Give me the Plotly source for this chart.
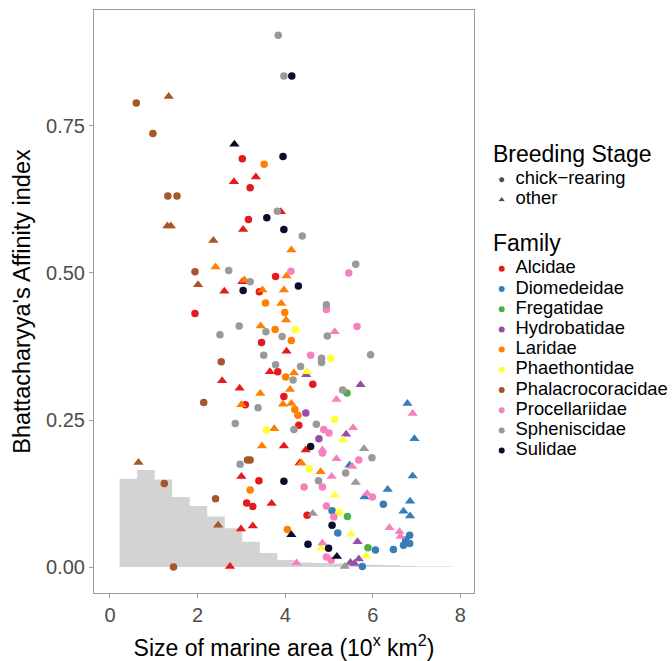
import plotly.graph_objects as go

# ---------------- data (x = log10 marine area, y = Bhattacharyya's affinity) ----------------
FAMILIES = ["Alcidae", "Diomedeidae", "Fregatidae", "Hydrobatidae", "Laridae",
            "Phaethontidae", "Phalacrocoracidae", "Procellariidae", "Spheniscidae", "Sulidae"]
COLORS = ["#E41A1C", "#377EB8", "#4DAF4A", "#984EA3", "#FF7F00",
          "#FFFF33", "#A65628", "#F781BF", "#999999", "#0b0b2e"]
STAGES = ["chick\u2212rearing", "other"]

# c = chick-rearing (circle), o = other (triangle)
ALCIDAE_X = [3.02, 3.20, 3.16, 3.78, 3.41, 1.94, 3.46, 3.83, 4.63, 3.97, 3.09, 4.31, 3.40, 3.12, 3.26, 4.50,
             2.83, 3.33, 3.04, 3.90, 3.02, 2.61, 4.03, 3.65, 2.56, 2.96, 3.97, 3.00, 3.69, 2.99, 3.26, 2.74, 4.47, 4.33]
ALCIDAE_Y = [0.694, 0.645, 0.591, 0.494, 0.468, 0.431, 0.382, 0.332, 0.311, 0.290, 0.276, 0.241, 0.147, 0.109, 0.103, 0.088,
             0.655, 0.663, 0.574, 0.604, 0.485, 0.469, 0.367, 0.332, 0.317, 0.304, 0.206, 0.154, 0.108, 0.065, 0.070, 0.001, 0.199, 0.177]
ALCIDAE_S = ["c"] * 16 + ["o"] * 18

DIOMEDEIDAE_X = [6.24, 5.07, 5.20, 6.84, 6.75, 6.84, 6.70, 6.06, 6.47, 5.76,
                 6.79, 6.95, 6.91, 6.34, 6.85, 6.70, 6.85, 5.81, 5.47]
DIOMEDEIDAE_Y = [0.107, 0.096, 0.058, 0.054, 0.046, 0.040, 0.037, 0.029, 0.030, 0.001,
                 0.278, 0.218, 0.155, 0.132, 0.112, 0.095, 0.087, 0.119, 0.173]
DIOMEDEIDAE_S = ["c"] * 10 + ["o"] * 9

FREGATIDAE_X = [5.41, 5.42, 5.89]
FREGATIDAE_Y = [0.296, 0.086, 0.033]
FREGATIDAE_S = ["c", "c", "c"]

HYDROBATIDAE_X = [4.47, 4.77, 5.72, 5.39, 5.65, 5.49, 5.58, 5.68, 4.48]
HYDROBATIDAE_Y = [0.262, 0.218, 0.310, 0.226, 0.043, 0.008, 0.006, 0.014, 0.327]
HYDROBATIDAE_S = ["c", "c", "o", "o", "o", "o", "o", "o", "o"]

LARIDAE_X = [3.52, 3.55, 3.99, 3.77, 4.14, 4.01, 4.22, 4.29, 3.20, 4.05,
             4.14, 2.41, 4.03, 3.07, 3.48, 3.97, 3.91, 4.02, 3.44, 4.20, 4.11, 3.43, 3.00, 3.95, 4.14, 3.75, 3.47, 4.37, 4.81]
LARIDAE_Y = [0.685, 0.449, 0.433, 0.404, 0.385, 0.323, 0.268, 0.258, 0.131, 0.064,
             0.539, 0.510, 0.495, 0.488, 0.471, 0.471, 0.448, 0.420, 0.410, 0.330, 0.302, 0.295, 0.276, 0.277, 0.278, 0.235, 0.206, 0.177, 0.162]
LARIDAE_S = ["c"] * 10 + ["o"] * 19

PHAETHONTIDAE_X = [4.23, 5.04, 5.13, 3.57, 4.55, 5.23, 4.50, 5.32, 5.13, 5.51, 4.82, 5.85]
PHAETHONTIDAE_Y = [0.404, 0.355, 0.251, 0.233, 0.167, 0.093, 0.332, 0.216, 0.122, 0.056, 0.032, 0.019]
PHAETHONTIDAE_S = ["c"] * 6 + ["o"] * 6

PHALACROCORACIDAE_X = [0.60, 0.98, 1.32, 1.53, 1.94, 2.14, 1.24, 2.41, 1.45, 3.14, 3.20, 2.54,
                       1.34, 1.31, 1.39, 2.36, 2.01, 0.65, 2.47]
PHALACROCORACIDAE_Y = [0.789, 0.737, 0.631, 0.631, 0.502, 0.280, 0.142, 0.116, 0.000, 0.182, 0.182, 0.349,
                       0.800, 0.580, 0.580, 0.555, 0.480, 0.178, 0.071]
PHALACROCORACIDAE_S = ["c"] * 12 + ["o"] * 7

PROCELLARIIDAE_X = [4.13, 5.45, 4.94, 5.64, 4.58, 4.88, 5.00, 4.85, 5.68, 4.43, 4.85, 5.99, 4.94, 5.11, 4.94, 5.05,
                    5.13, 5.17, 6.91, 5.55, 4.85, 5.17, 5.53, 5.06, 5.87, 6.38, 6.61, 6.63, 4.85, 4.26]
PROCELLARIIDAE_Y = [0.503, 0.500, 0.438, 0.409, 0.360, 0.234, 0.228, 0.194, 0.182, 0.136, 0.136, 0.119, 0.104, 0.085, 0.017, 0.012,
                    0.400, 0.285, 0.261, 0.237, 0.199, 0.184, 0.171, 0.154, 0.125, 0.067, 0.060, 0.052, 0.041, 0.007]
PROCELLARIIDAE_S = ["c"] * 16 + ["o"] * 14

SPHENISCIDAE_X = [3.84, 3.97, 3.82, 4.39, 2.71, 3.20, 5.61, 4.94, 2.95, 2.51, 3.56, 3.93, 4.96, 3.51, 4.83, 4.83,
                  5.95, 3.78, 4.35, 4.18, 5.31, 3.38, 2.86, 4.20, 4.71, 2.97, 5.98, 5.38, 4.76,
                  5.80, 5.61, 4.63, 5.36]
SPHENISCIDAE_Y = [0.904, 0.835, 0.605, 0.563, 0.504, 0.485, 0.515, 0.446, 0.410, 0.395, 0.400, 0.392, 0.393, 0.360, 0.355, 0.348,
                  0.361, 0.344, 0.341, 0.318, 0.301, 0.271, 0.244, 0.234, 0.243, 0.175, 0.186, 0.160, 0.147,
                  0.201, 0.144, 0.091, 0.001]
SPHENISCIDAE_S = ["c"] * 29 + ["o"] * 4

SULIDAE_X = [4.15, 3.95, 3.58, 3.97, 4.30, 3.04, 4.58, 3.97, 5.07, 4.52, 4.99, 2.84, 4.14, 5.18]
SULIDAE_Y = [0.835, 0.698, 0.594, 0.574, 0.478, 0.470, 0.205, 0.146, 0.071, 0.039, 0.032, 0.719, 0.055, 0.018]
SULIDAE_S = ["c"] * 11 + ["o"] * 3

# background distribution (step histogram)
HIST_EDGES = [0.22, 0.62, 1.02, 1.42, 1.82, 2.22, 2.62, 3.02, 3.42, 3.82, 4.22, 4.62, 5.02, 5.42, 5.82, 6.22, 6.62, 7.02, 7.42, 7.82]
HIST_HEIGHTS = [0.150, 0.165, 0.149, 0.119, 0.104, 0.086, 0.066, 0.043, 0.024, 0.012, 0.008, 0.007, 0.006, 0.005, 0.004, 0.003, 0.002, 0.001, 0.001]

X_TICKS = [0, 2, 4, 6, 8]
Y_TICKS = [0.0, 0.25, 0.5, 0.75]
Y_TICK_LABELS = ["0.00", "0.25", "0.50", "0.75"]

FAMILY_DATA = {
    "Alcidae": (ALCIDAE_X, ALCIDAE_Y, ALCIDAE_S),
    "Diomedeidae": (DIOMEDEIDAE_X, DIOMEDEIDAE_Y, DIOMEDEIDAE_S),
    "Fregatidae": (FREGATIDAE_X, FREGATIDAE_Y, FREGATIDAE_S),
    "Hydrobatidae": (HYDROBATIDAE_X, HYDROBATIDAE_Y, HYDROBATIDAE_S),
    "Laridae": (LARIDAE_X, LARIDAE_Y, LARIDAE_S),
    "Phaethontidae": (PHAETHONTIDAE_X, PHAETHONTIDAE_Y, PHAETHONTIDAE_S),
    "Phalacrocoracidae": (PHALACROCORACIDAE_X, PHALACROCORACIDAE_Y, PHALACROCORACIDAE_S),
    "Procellariidae": (PROCELLARIIDAE_X, PROCELLARIIDAE_Y, PROCELLARIIDAE_S),
    "Spheniscidae": (SPHENISCIDAE_X, SPHENISCIDAE_Y, SPHENISCIDAE_S),
    "Sulidae": (SULIDAE_X, SULIDAE_Y, SULIDAE_S),
}

FONT = "Liberation Sans, Arial, Helvetica, sans-serif"

# ---------------- layout geometry ----------------
W, H = 672, 661
M_L, M_R, M_T, M_B = 94, 0, 10, 68
PLOT_W = W - M_L - M_R            # 578
PANEL_W = 380                     # width of the data panel
MAIN_DOMAIN = [0, PANEL_W / PLOT_W]

# legend panel (its own hidden axes, rows of 20.2 px)
LEG_LEFT = 487
LEG_DOMAIN = [(LEG_LEFT - M_L) / PLOT_W, 1]
LEG_X_RANGE = [0, W - LEG_LEFT]
ROW_PX = 20.2
ROW0_PX = 179.7                   # pixel row of first legend key
PLOT_H = H - M_T - M_B
LEG_Y_RANGE = [(M_T + PLOT_H - ROW0_PX) / ROW_PX, (M_T - ROW0_PX) / ROW_PX]
KEY_X, TEXT_X, TITLE_X = 14.7, 28.5, 6
STAGE_TITLE_ROW, STAGE_ROWS = -1.17, [0, 1]
FAMILY_TITLE_ROW = 3.25
FAMILY_ROWS = [4.41 + i for i in range(len(FAMILIES))]

fig = go.Figure()

# histogram background
fig.add_trace(go.Scatter(
    x=HIST_EDGES, y=HIST_HEIGHTS + [HIST_HEIGHTS[-1]],
    mode="lines", line=dict(width=0, shape="hv", color="#d3d3d3"),
    fill="tozeroy", fillcolor="#d3d3d3", showlegend=False, hoverinfo="skip"))

# points
for fam, col in zip(FAMILIES, COLORS):
    xs, ys, ss = FAMILY_DATA[fam]
    for stage, sym, size in [("c", "circle", 7.5), ("o", "triangle-up", 9)]:
        px = [x for x, s in zip(xs, ss) if s == stage]
        py = [y for y, s in zip(ys, ss) if s == stage]
        if not px:
            continue
        fig.add_trace(go.Scatter(
            x=px, y=py, mode="markers",
            marker=dict(symbol=sym, size=size, color=col, line=dict(width=0)),
            showlegend=False, name=fam))

# ---------------- legend (drawn on hidden axes) ----------------
fig.add_trace(go.Scatter(
    x=[KEY_X] * 2, y=STAGE_ROWS, mode="markers", xaxis="x2", yaxis="y2",
    marker=dict(symbol=["circle", "triangle-up"], size=[6, 7], color="black"),
    showlegend=False, hoverinfo="skip"))
fig.add_trace(go.Scatter(
    x=[KEY_X] * len(FAMILIES), y=FAMILY_ROWS, mode="markers", xaxis="x2", yaxis="y2",
    marker=dict(symbol="circle", size=6, color=COLORS),
    showlegend=False, hoverinfo="skip"))
fig.add_trace(go.Scatter(
    x=[TEXT_X] * (2 + len(FAMILIES)), y=STAGE_ROWS + FAMILY_ROWS, mode="text",
    xaxis="x2", yaxis="y2", text=STAGES + FAMILIES, textposition="middle right",
    textfont=dict(family=FONT, size=18.4, color="black"),
    showlegend=False, hoverinfo="skip"))
fig.add_trace(go.Scatter(
    x=[TITLE_X] * 2, y=[STAGE_TITLE_ROW, FAMILY_TITLE_ROW], mode="text",
    xaxis="x2", yaxis="y2", text=["Breeding Stage", "Family"], textposition="middle right",
    textfont=dict(family=FONT, size=23, color="black"),
    showlegend=False, hoverinfo="skip"))

axis_common = dict(
    showgrid=False, zeroline=False, showline=True, mirror=True, automargin=False,
    linecolor="#9a9a9a", linewidth=1, ticks="outside", ticklen=4,
    tickcolor="#9a9a9a", tickwidth=1,
    tickfont=dict(family=FONT, size=20, color="#4d4d4d"),
)

fig.update_layout(
    width=W, height=H, showlegend=False,
    margin=dict(l=M_L, r=M_R, t=M_T, b=M_B, autoexpand=False),
    paper_bgcolor="white", plot_bgcolor="white",
    font=dict(family=FONT, color="black"),
    xaxis=dict(domain=MAIN_DOMAIN, range=[-0.365, 8.31], tickvals=X_TICKS,
               ticktext=[str(v) for v in X_TICKS],
               title=dict(text="Size of marine area (10<sup>x</sup> km<sup>2</sup>)",
                          font=dict(family=FONT, size=23), standoff=14),
               **axis_common),
    yaxis=dict(range=[-0.044, 0.947], tickvals=Y_TICKS, ticktext=Y_TICK_LABELS,
               title=dict(text="Bhattacharyya's Affinity index",
                          font=dict(family=FONT, size=23.5), standoff=8),
               **axis_common),
    xaxis2=dict(domain=LEG_DOMAIN, range=LEG_X_RANGE, visible=False, fixedrange=True),
    yaxis2=dict(domain=[0, 1], range=LEG_Y_RANGE, visible=False, fixedrange=True, anchor="x2"),
)

fig.write_html(
    "out.html",
    config={"displayModeBar": False},
    post_script="document.body.style.margin='0';document.body.style.padding='0';",
)
